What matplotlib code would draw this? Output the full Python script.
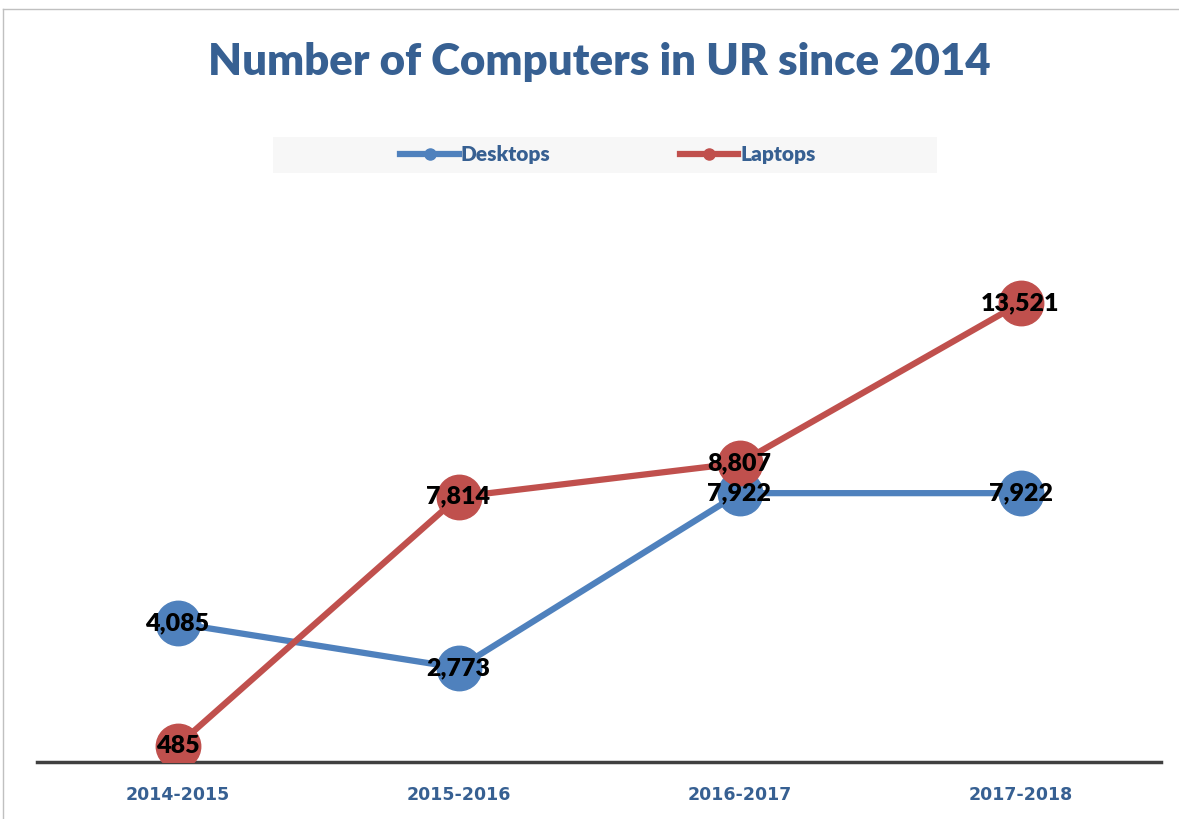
import matplotlib.pyplot as plt
from matplotlib.lines import Line2D
from matplotlib.patches import Rectangle

# Data
years = ['2014-2015', '2015-2016', '2016-2017', '2017-2018']
desktops = [4085, 2773, 7922, 7922]
laptops = [485, 7814, 8807, 13521]

blue = '#4F81BD'
red = '#C0504D'
navy = '#376092'

plt.rcParams['font.family'] = ['Lato', 'DejaVu Sans']

fig = plt.figure(figsize=(11.79, 8.19), dpi=100)
ax = fig.add_axes([37 / 1179, 57 / 819, 1124 / 1179, 543 / 819])

x = list(range(len(years)))
ax.plot(x, desktops, color=blue, lw=4.5, marker='o', ms=32, zorder=3)
ax.plot(x, laptops, color=red, lw=4.5, marker='o', ms=32, zorder=3)

# data labels centred on the points
for xi, v in zip(x, desktops):
    ax.text(xi, v, f'{v:,}', ha='center', va='center', fontsize=18,
            fontweight='heavy', color='black', zorder=5)
for xi, v in zip(x, laptops):
    ax.text(xi, v, f'{v:,}', ha='center', va='center', fontsize=18,
            fontweight='heavy', color='black', zorder=5)

ax.set_xlim(-0.5, 3.5)
ax.set_ylim(0, 16000)
ax.set_xticks(x)
ax.set_xticklabels(years, fontsize=12.5, fontweight='bold', color=navy,
                   family='DejaVu Sans')
ax.tick_params(axis='x', length=0, pad=17)
ax.set_yticks([])
for s in ['top', 'right', 'left']:
    ax.spines[s].set_visible(False)
ax.spines['bottom'].set_color('#404040')
ax.spines['bottom'].set_linewidth(2.5)
ax.patch.set_alpha(0)

# title
fig.text(599 / 1179, 1 - 62 / 819, 'Number of Computers in UR since 2014',
         ha='center', va='center', fontsize=31.5, fontweight='heavy', color=navy)

# legend background + legend
fig.patches.append(Rectangle((273 / 1179, 1 - 173 / 819), 664 / 1179, 36 / 819,
                             transform=fig.transFigure, facecolor='#F7F7F7',
                             edgecolor='none', zorder=0))
handles = [Line2D([], [], color=blue, lw=4.5, marker='o', ms=8),
           Line2D([], [], color=red, lw=4.5, marker='o', ms=8)]
leg = fig.legend(handles, ['Desktops', 'Laptops'], loc='center',
                 bbox_to_anchor=(608 / 1179, 1 - 155 / 819), ncol=2,
                 frameon=False, handlelength=2.8, handletextpad=0.1,
                 columnspacing=6.2, prop={'weight': 'heavy', 'size': 15})
for t in leg.get_texts():
    t.set_color(navy)

# outer border lines (top and left)
fig.add_artist(Line2D([3 / 1179, 1], [1 - 9 / 819, 1 - 9 / 819],
                      transform=fig.transFigure, color='#C0C0C0', lw=1))
fig.add_artist(Line2D([3 / 1179, 3 / 1179], [0, 1 - 9 / 819],
                      transform=fig.transFigure, color='#C0C0C0', lw=1))

fig.savefig('out.png', dpi=100)
